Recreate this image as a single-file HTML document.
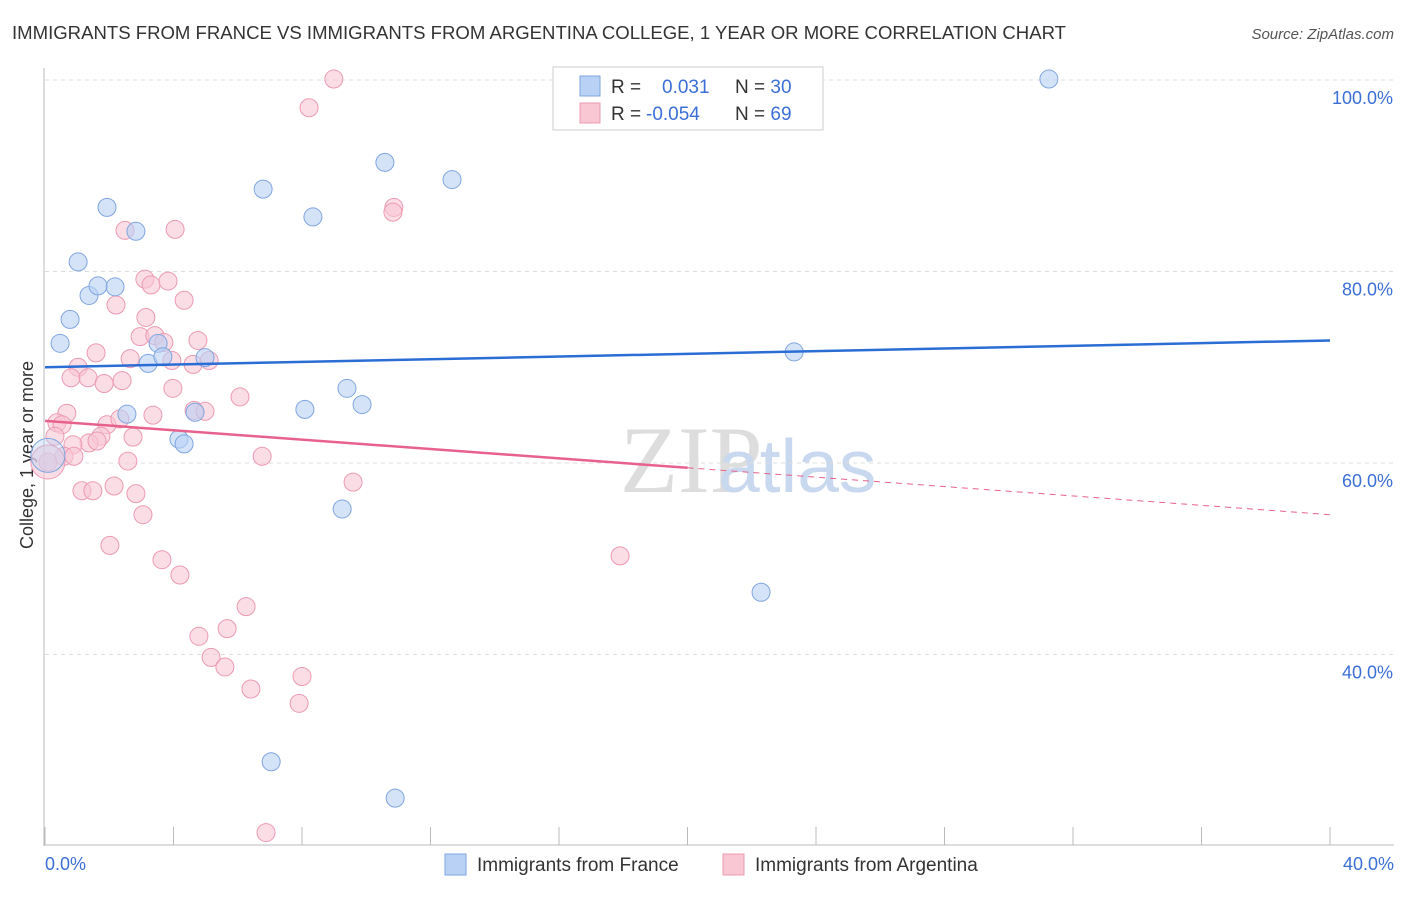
<!DOCTYPE html>
<html><head><meta charset="utf-8"><style>
body{margin:0;background:#fff;font-family:"Liberation Sans",sans-serif}
</style></head><body>
<svg width="1406" height="892" xmlns="http://www.w3.org/2000/svg" font-family="Liberation Sans, sans-serif">
<text x="12" y="39" font-size="18" fill="#333" textLength="1054" lengthAdjust="spacingAndGlyphs">IMMIGRANTS FROM FRANCE VS IMMIGRANTS FROM ARGENTINA COLLEGE, 1 YEAR OR MORE CORRELATION CHART</text>
<text x="1394" y="39" font-size="15" fill="#555" text-anchor="end" font-style="italic">Source: ZipAtlas.com</text>
<text x="620" y="492" font-size="95" fill="#ddd" font-family="Liberation Serif, serif">ZIP</text>
<text x="718" y="492" font-size="75" fill="#c8d8ee">atlas</text>
<g id="grid"></g>
<line x1="44" y1="68" x2="44" y2="846" stroke="#bbb"/>
<line x1="44" y1="845" x2="1394" y2="845" stroke="#bbb"/>
<g id="ticks"></g>
<text transform="translate(33,455) rotate(-90)" font-size="18" fill="#333" text-anchor="middle">College, 1 year or more</text>
<text x="45" y="870" font-size="18" fill="#3b6fd6">0.0%</text>
<text x="1394" y="870" font-size="18" fill="#3b6fd6" text-anchor="end">40.0%</text>
<g id="pts"></g>
<g id="lines"></g>
<g>
<rect x="553" y="67" width="270" height="63" fill="#fff" stroke="#ccc"/>
<rect x="580" y="76" width="20" height="20" fill="#b9d1f5" stroke="#7fa6e0"/>
<rect x="580" y="103" width="20" height="20" fill="#f9c6d4" stroke="#ec9ab2"/>
<text x="611" y="93" font-size="19" fill="#333">R = <tspan fill="#3b6fd6" x="662">0.031</tspan><tspan fill="#333" x="735">N = </tspan><tspan fill="#3b6fd6">30</tspan></text>
<text x="611" y="120" font-size="19" fill="#333">R = <tspan fill="#3b6fd6" x="646">-0.054</tspan><tspan fill="#333" x="735">N = </tspan><tspan fill="#3b6fd6">69</tspan></text>
</g>
<g>
<rect x="445" y="854" width="21" height="21" fill="#b9d1f5" stroke="#7fa6e0"/>
<text x="477" y="871" font-size="19" fill="#333">Immigrants from France</text>
<rect x="723" y="854" width="21" height="21" fill="#f9c6d4" stroke="#ec9ab2"/>
<text x="755" y="871" font-size="19" fill="#333">Immigrants from Argentina</text>
</g>
</svg>
<script>
const yTicks=[100,80,60,40];
const yTickLabels=["100.0%","80.0%","60.0%","40.0%"];
const xTicks=[0,4,8,12,16,20,24,28,32,36,40];
const franceX=[1.93,2.83,1.03,1.37,2.18,1.65,0.78,0.47,3.21,3.52,3.67,4.98,2.55,4.67,4.17,4.33,6.79,8.34,10.58,12.67,8.09,9.40,9.87,9.25,7.04,10.90,23.32,22.29,31.25,0.09];
const franceY=[86.7,84.2,81.0,77.5,78.4,78.5,75.0,72.5,70.4,72.5,71.1,71.0,65.1,65.3,62.5,62.0,88.6,85.7,91.4,89.6,65.6,67.8,66.1,55.2,28.8,25.0,71.6,46.5,100.1,60.8];
const argX=[8.99,8.22,10.86,10.83,2.49,4.05,3.11,3.30,3.83,2.21,4.33,3.14,2.96,3.42,3.70,4.76,1.59,2.65,3.95,4.61,5.11,1.03,0.81,1.34,2.40,1.84,3.98,6.07,0.68,3.36,4.64,4.98,0.37,0.53,1.93,2.33,1.74,2.74,1.37,1.62,0.87,0.31,0.59,0.90,2.58,6.76,0.09,2.15,9.59,1.15,1.49,2.83,3.05,2.02,3.64,4.20,17.90,6.26,5.67,4.79,5.17,5.60,6.41,8.00,7.91,6.88,0.09];
const argY=[100.1,97.1,86.7,86.2,84.3,84.4,79.2,78.6,79.0,76.5,77.0,75.2,73.2,73.3,72.6,72.8,71.5,70.9,70.7,70.3,70.7,70.0,68.9,68.9,68.6,68.3,67.8,66.9,65.2,65.0,65.5,65.4,64.2,64.0,64.0,64.6,62.8,62.7,62.1,62.3,61.9,62.8,60.7,60.7,60.2,60.7,60.1,57.6,58.0,57.1,57.1,56.8,54.6,51.4,49.9,48.3,50.3,45.0,42.7,41.9,39.7,38.7,36.4,37.7,34.9,21.4,60.1];
const franceTrend=[70.0,72.8];
const argTrend=[64.4,54.6];
const argSolidEnd=20;
const sx=v=>45+v/40*1285;
const sy=v=>80+(100-v)/20*191.5;
const NS="http://www.w3.org/2000/svg";
function mk(tag,parent,attrs){const e=document.createElementNS(NS,tag);for(const k in attrs)e.setAttribute(k,attrs[k]);document.getElementById(parent).appendChild(e);return e;}
yTicks.forEach((t,i)=>{
 const l=mk('line','grid',{x1:45,x2:1394,y1:sy(t),y2:sy(t),stroke:'#ddd','stroke-dasharray':'4,4'});
 
 
 const tx=mk('text','grid',{x:1393,y:sy(t)+24,'font-size':18,fill:'#3b6fd6','text-anchor':'end'});
 tx.textContent=yTickLabels[i];
 
 
});
xTicks.forEach(t=>{
 const l=mk('line','ticks',{x1:sx(t),x2:sx(t),y1:827,y2:845,stroke:'#bbb'});
 
 
});
argX.forEach((x,i)=>{
 const big=i===argX.length-1;
 const c=mk('circle','pts',{cx:sx(x),cy:sy(argY[i]),r:big?17:9,fill:'#f9c6d4','fill-opacity':0.6,stroke:'#ec9ab2','stroke-width':1});
 
 
});
franceX.forEach((x,i)=>{
 const big=i===franceX.length-1;
 const c=mk('circle','pts',{cx:sx(x),cy:sy(franceY[i]),r:big?17:9,fill:'#b9d1f5','fill-opacity':big?0.4:0.6,stroke:'#7fa6e0','stroke-width':1});
 
 
});
const bl=mk('line','lines',{x1:sx(0),y1:sy(franceTrend[0]),x2:sx(40),y2:sy(franceTrend[1]),stroke:'#2a6dd4','stroke-width':2.5});


const am=argTrend[0]+(argTrend[1]-argTrend[0])*argSolidEnd/40;
const pl=mk('line','lines',{x1:sx(0),y1:sy(argTrend[0]),x2:sx(argSolidEnd),y2:sy(am),stroke:'#e8618c','stroke-width':2.5});


const pd=mk('line','lines',{x1:sx(argSolidEnd),y1:sy(am),x2:sx(40),y2:sy(argTrend[1]),stroke:'#e8618c','stroke-width':1,'stroke-dasharray':'6,5'});


</script>
</body></html>
